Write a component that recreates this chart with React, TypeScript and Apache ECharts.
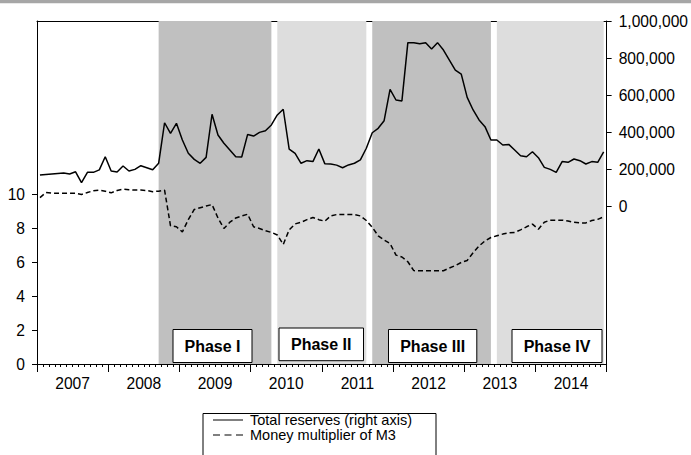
import React, { useEffect, useRef } from "react";
import * as echarts from "echarts";

const YEARS = ["2007", "2008", "2009", "2010", "2011", "2012", "2013", "2014"];
const MONTHS: string[] = [];
YEARS.forEach((y) => {
  for (let m = 1; m <= 12; m++) MONTHS.push(`${y}-${m < 10 ? "0" + m : m}`);
});

// Total reserves (right axis), monthly 2007-01 .. 2014-12
const RESERVES: (number | null)[] = [
  168000, null, null, null, 178000, 173000, 185000, 126000, 182000, 182000, 195000, 266000,
  189000, 184000, 216000, 189000, 198000, 218000, 207000, 196000, 231000, 450000, 393000, 447000,
  357000, 285000, 252000, 231000, 263000, 496000, 384000, 339000, 303000, 266000, 265000, 387000,
  378000, 398000, 407000, 438000, 492000, 523000, 308000, 285000, 231000, 245000, 240000, 308000,
  229000, 227000, 221000, 207000, 222000, 231000, 249000, 312000, 396000, 420000, 461000, 631000,
  573000, 568000, 883000, 883000, 877000, 883000, 849000, 883000, 843000, 789000, 735000, 713000,
  587000, 519000, 465000, 429000, 357000, 357000, 330000, 333000, 303000, 272000, 266000, 293000,
  261000, 209000, 198000, 182000, 240000, 236000, 254000, 245000, 227000, 240000, 236000, 293000,
];

// Money multiplier of M3 (left axis)
const MULTIPLIER: number[] = [
  9.8, 10.1, 10.06, 10.06, 10.05, 10.05, 10.05, 9.98, 10.1, 10.2, 10.24, 10.18,
  10.08, 10.22, 10.3, 10.26, 10.24, 10.24, 10.22, 10.15, 10.18, 10.24, 8.14, 8.08,
  7.78, 8.5, 9.1, 9.2, 9.3, 9.39, 8.6, 7.98, 8.35, 8.6, 8.72, 8.82,
  8.08, 7.98, 7.85, 7.75, 7.6, 7.04, 7.9, 8.25, 8.35, 8.5, 8.63, 8.5,
  8.41, 8.72, 8.8, 8.8, 8.8, 8.8, 8.72, 8.45, 8.05, 7.55, 7.3, 7.1,
  6.41, 6.3, 6.02, 5.5, 5.49, 5.49, 5.49, 5.49, 5.49, 5.65, 5.8, 5.98,
  6.1, 6.55, 6.95, 7.25, 7.45, 7.55, 7.65, 7.72, 7.75, 7.9, 8.08, 8.24,
  7.94, 8.35, 8.47, 8.47, 8.47, 8.42, 8.35, 8.31, 8.31, 8.45, 8.52, 8.67,
];

const LEFT_TICKS = [0, 2, 4, 6, 8, 10];
const RIGHT_TICKS = [0, 200000, 400000, 600000, 800000, 1000000];

const PHASE_NAMES = ["Phase I", "Phase II", "Phase III", "Phase IV"];
// month index ranges of each phase
const PHASE_RANGES: [number, number][] = [
  [20, 39],
  [40, 55],
  [56, 76],
  [77, 95],
];

const SERIES_NAMES = ["Total reserves (right axis)", "Money multiplier of M3"];

const FONT = 'Arial, "Liberation Sans", sans-serif';

export default function App() {
  const ref = useRef<HTMLDivElement>(null);

  useEffect(() => {
    if (!ref.current) return;
    const chart = echarts.init(ref.current, undefined, { renderer: "svg" });

    const phaseColors = ["#c0c0c0", "#dddddd", "#c0c0c0", "#dddddd"];
    const boxes = [
      { x: 173, y: 329.5, w: 79, h: 33 },
      { x: 279, y: 328, w: 84.5, h: 32.7 },
      { x: 388.5, y: 329.5, w: 88.3, h: 33 },
      { x: 512, y: 329.5, w: 90, h: 33 },
    ];

    const graphic: any[] = [
      {
        type: "rect",
        shape: { x: 0, y: 0, width: 691, height: 3.3 },
        style: { fill: "#a6a6a6" },
        z: 100,
      },
      {
        type: "rect",
        shape: { x: 203, y: 413.5, width: 233, height: 80 },
        style: { fill: "#ffffff", stroke: "#000000", lineWidth: 1 },
        z: 1,
      },
    ];
    PHASE_NAMES.forEach((name, i) => {
      const b = boxes[i];
      graphic.push({
        type: "rect",
        shape: { x: b.x, y: b.y, width: b.w, height: b.h },
        style: { fill: "#ffffff", stroke: "#000000", lineWidth: 1 },
        z: 50,
      });
      graphic.push({
        type: "text",
        x: b.x + b.w / 2,
        y: b.y + b.h / 2 + 0.5,
        style: {
          text: name,
          align: "center",
          verticalAlign: "middle",
          fontSize: 16,
          fontWeight: "bold",
          fontFamily: FONT,
          fill: "#000000",
        },
        z: 51,
      });
    });

    const axisLine = { show: true, onZero: false, lineStyle: { color: "#000000", width: 1 } };

    const option: any = {
      animation: false,
      backgroundColor: "#ffffff",
      grid: { left: 37, right: 84, top: 21, bottom: 91, containLabel: false },
      legend: {
        orient: "vertical",
        left: 203,
        top: 412.5,
        z: 10,
        data: [
          { name: SERIES_NAMES[0], icon: "path://M0,0H30V1H0Z" },
          {
            name: SERIES_NAMES[1],
            icon: "path://M0,0H7V1H0Z M11.5,0H18.5V1H11.5Z M23,0H30V1H23Z",
          },
        ],
        itemWidth: 30,
        itemHeight: 1.5,
        itemGap: 0,
        padding: [0, 4, 0, 10],
        textStyle: {
          fontSize: 14.5,
          color: "#000000",
          fontFamily: FONT,
          lineHeight: 14.5,
          padding: [0, 0, 0, 2],
        },
      },
      xAxis: [
        {
          type: "category",
          data: MONTHS,
          boundaryGap: true,
          position: "bottom",
          axisLine,
          axisTick: { show: true, interval: 0, length: 3, lineStyle: { color: "#000000" } },
          axisLabel: { show: false },
          splitLine: { show: false },
        },
        {
          type: "category",
          data: YEARS,
          boundaryGap: true,
          position: "bottom",
          axisLine,
          axisTick: { show: true, interval: 0, length: 8, lineStyle: { color: "#000000" } },
          axisLabel: { show: true, interval: 0, fontSize: 15.6, color: "#000000", fontFamily: FONT, margin: 11 },
          splitLine: { show: false },
        },
        {
          type: "category",
          data: YEARS,
          position: "top",
          axisLine,
          axisTick: { show: false },
          axisLabel: { show: false },
          splitLine: { show: false },
        },
      ],
      yAxis: [
        {
          type: "value",
          position: "left",
          min: 0,
          max: 20.2,
          axisLine,
          axisTick: { show: true, length: 5, customValues: LEFT_TICKS, lineStyle: { color: "#000000" } },
          axisLabel: {
            show: true,
            customValues: LEFT_TICKS,
            fontSize: 15.6,
            color: "#000000",
            fontFamily: FONT,
            margin: 12,
          },
          splitLine: { show: false },
        },
        {
          type: "value",
          position: "right",
          min: -854000,
          max: 1000000,
          axisLine,
          axisTick: { show: true, length: 5, customValues: RIGHT_TICKS, lineStyle: { color: "#000000" } },
          axisLabel: {
            show: true,
            customValues: RIGHT_TICKS,
            fontSize: 15.6,
            color: "#000000",
            fontFamily: FONT,
            margin: 12,
            formatter: (v: number) => v.toLocaleString("en-US"),
          },
          splitLine: { show: false },
        },
      ],
      series: [
        {
          name: "phases",
          type: "line",
          xAxisIndex: 0,
          yAxisIndex: 0,
          data: [],
          z: 1,
          silent: true,
          markArea: {
            silent: true,
            data: PHASE_RANGES.map(([a, b], i) => [
              { xAxis: MONTHS[a], itemStyle: { color: phaseColors[i], opacity: 1 } },
              { xAxis: MONTHS[b] },
            ]),
          },
        },
        {
          name: SERIES_NAMES[0],
          type: "line",
          xAxisIndex: 0,
          yAxisIndex: 1,
          data: RESERVES,
          connectNulls: true,
          symbol: "none",
          showSymbol: false,
          lineStyle: { color: "#000000", width: 1.5, type: "solid" },
          itemStyle: { color: "#000000" },
          z: 5,
        },
        {
          name: SERIES_NAMES[1],
          type: "line",
          xAxisIndex: 0,
          yAxisIndex: 0,
          data: MULTIPLIER,
          symbol: "none",
          showSymbol: false,
          lineStyle: { color: "#000000", width: 1.5, type: [5, 3] },
          itemStyle: { color: "#000000" },
          z: 5,
        },
      ],
      graphic,
    };

    chart.setOption(option);
    return () => chart.dispose();
  }, []);

  return (
    <div
      ref={ref}
      style={{ position: "absolute", left: 0, top: 0, width: 691, height: 455, background: "#fff" }}
    />
  );
}
